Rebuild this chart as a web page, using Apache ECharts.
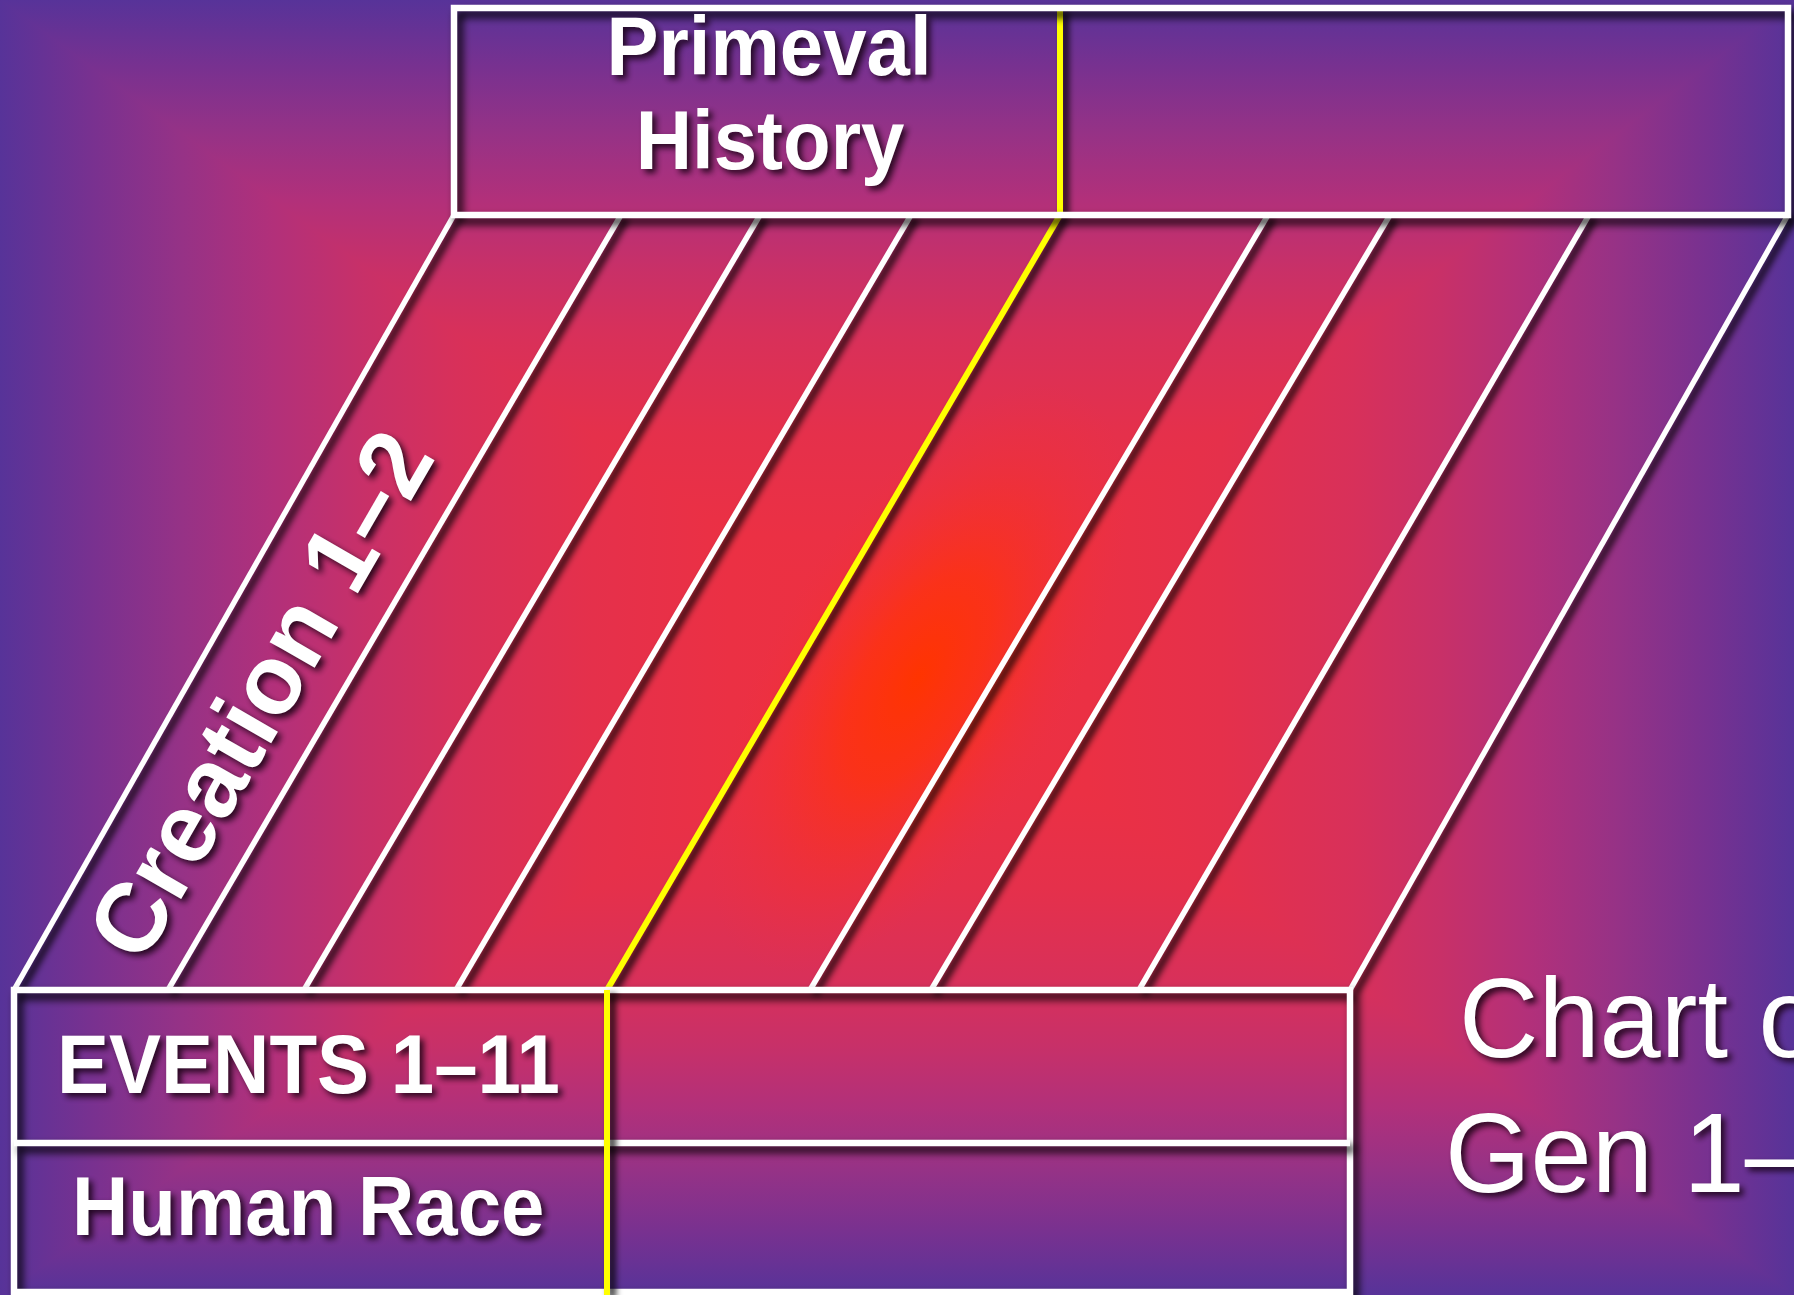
<!DOCTYPE html>
<html>
<head>
<meta charset="utf-8">
<style>
  html, body { margin: 0; padding: 0; background: #5a3398; overflow: hidden; }
  #chart { width: 1794px; height: 1295px; }
</style>
<script src="https://cdn.jsdelivr.net/npm/echarts@6/dist/echarts.min.js"></script>
</head>
<body>
<div id="chart"></div>
<script>
// ===== Diagram data (in diagram units on hidden value axes) =====
const slantTopX    = [454, 621, 760, 911, 1060, 1268, 1390, 1589, 1788];
const slantBottomX = [14, 168, 304, 456, 607, 810, 931, 1139, 1350];
const highlightedSlant = 4;
const bandEdgesY   = [215, 990];
const headerBox    = [454, 8, 1788, 215];
const eventBox     = [14, 990, 1350, 1292];
const eventRowSplitY = [1143];
const yellowSplits = [[1060, 8, 215], [607, 990, 1295]];

const headerLabels = ['Primeval', 'History'];
const rowLabels    = ['EVENTS 1–11', 'Human Race'];
const bandLabels   = ['Creation 1–2'];
const titleLabels  = ['Chart of', 'Gen 1–11'];

// ===== Layout / styling =====
const W = 1794, H = 1295;
const labelAnchors = {
  header: [[769, 52], [770, 146]],
  rows:   [[57, 1070], [72, 1212]],
  band:   [[266, 698]],
  title:  [[1459, 1026], [1445, 1161]]
};
const glowCenterFrac = [912 / W, 668 / H];
const glowStops = [
  { offset: 0.00, color: '#ee3040' },
  { offset: 0.20, color: '#eb3044' },
  { offset: 0.35, color: '#e5304b' },
  { offset: 0.50, color: '#d8305a' },
  { offset: 0.60, color: '#c83068' },
  { offset: 0.70, color: '#b2307a' },
  { offset: 0.80, color: '#963286' },
  { offset: 0.90, color: '#783190' },
  { offset: 1.00, color: '#573399' }
];
const FONT = '"Liberation Sans", Arial, Helvetica, sans-serif';
const textShadow = {
  textShadowColor: 'rgba(20,0,15,0.85)',
  textShadowBlur: 6,
  textShadowOffsetX: 4,
  textShadowOffsetY: 4
};
const lineShadow = {
  shadowColor: 'rgba(0,0,0,1)',
  shadowBlur: 7,
  shadowOffsetX: 5,
  shadowOffsetY: 4
};
const boxShadow = {
  shadowColor: 'rgba(0,0,0,1)',
  shadowBlur: 8,
  shadowOffsetX: 5,
  shadowOffsetY: 6
};

const chart = echarts.init(document.getElementById('chart'), null, { renderer: 'canvas' });

function backgroundSeries() {
  return {
    type: 'custom',
    coordinateSystem: 'none',
    silent: true,
    z: 0,
    data: [[0]],
    renderItem: function (params, api) {
      const w = api.getWidth(), h = api.getHeight();
      const cx = w * glowCenterFrac[0], cy = h * glowCenterFrac[1];
      function grad(x2, y2) {
        return { type: 'linear', x: cx, y: cy, x2: x2, y2: y2, global: true, colorStops: glowStops };
      }
      function tri(pts, g) {
        return { type: 'polygon', shape: { points: pts }, style: { fill: g, stroke: g, lineWidth: 2 } };
      }
      const children = [
        tri([[0, 0], [w, 0], [cx, cy]], grad(cx, 0)),
        tri([[0, h], [w, h], [cx, cy]], grad(cx, h)),
        tri([[0, 0], [0, h], [cx, cy]], grad(0, cy)),
        tri([[w, 0], [w, h], [cx, cy]], grad(w, cy)),
        {
          type: 'circle',
          x: cx + 6, y: cy + 10,
          rotation: -Math.PI / 6,
          scaleX: 1, scaleY: 2.2,
          shape: { cx: 0, cy: 0, r: 150 },
          style: {
            fill: {
              type: 'radial', x: 0.5, y: 0.5, r: 0.5,
              colorStops: [
                { offset: 0, color: 'rgba(255,52,0,1)' },
                { offset: 0.35, color: 'rgba(255,50,12,0.75)' },
                { offset: 0.7, color: 'rgba(248,48,36,0.3)' },
                { offset: 1, color: 'rgba(240,48,60,0)' }
              ]
            }
          }
        }
      ];
      return { type: 'group', children: children };
    }
  };
}

function slantSeries() {
  return {
    type: 'custom',
    coordinateSystem: 'cartesian2d',
    silent: true,
    z: 3,
    data: slantTopX.map((x, i) => [x, slantBottomX[i]]),
    renderItem: function (params, api) {
      const a = api.coord([api.value(0), bandEdgesY[0]]);
      const b = api.coord([api.value(1), bandEdgesY[1]]);
      const hi = params.dataIndex === highlightedSlant;
      return {
        type: 'line',
        shape: { x1: a[0], y1: a[1], x2: b[0], y2: b[1] },
        style: Object.assign({ stroke: hi ? '#ffff00' : '#ffffff', lineWidth: hi ? 6 : 5.5 }, lineShadow)
      };
    }
  };
}

function yellowSeries(z, items) {
  return {
    type: 'custom',
    coordinateSystem: 'cartesian2d',
    silent: true,
    z: z,
    data: items,
    renderItem: function (params, api) {
      const a = api.coord([api.value(0), api.value(1)]);
      const b = api.coord([api.value(0), api.value(2)]);
      return {
        type: 'line',
        shape: { x1: a[0], y1: a[1], x2: b[0], y2: b[1] },
        style: Object.assign({ stroke: '#ffff00', lineWidth: 6 }, lineShadow)
      };
    }
  };
}

function boxSeries() {
  return {
    type: 'custom',
    coordinateSystem: 'cartesian2d',
    silent: true,
    z: 5,
    data: [headerBox, eventBox],
    renderItem: function (params, api) {
      const p0 = api.coord([api.value(0), api.value(1)]);
      const p1 = api.coord([api.value(2), api.value(3)]);
      return {
        type: 'rect',
        shape: { x: p0[0], y: p0[1], width: p1[0] - p0[0], height: p1[1] - p0[1] },
        style: Object.assign({ fill: null, stroke: '#ffffff', lineWidth: 6.5 }, boxShadow)
      };
    }
  };
}

function rowSplitSeries() {
  return {
    type: 'custom',
    coordinateSystem: 'cartesian2d',
    silent: true,
    z: 5,
    data: eventRowSplitY.map(y => [eventBox[0], y, eventBox[2]]),
    renderItem: function (params, api) {
      const a = api.coord([api.value(0), api.value(1)]);
      const b = api.coord([api.value(2), api.value(1)]);
      return {
        type: 'line',
        shape: { x1: a[0], y1: a[1], x2: b[0], y2: b[1] },
        style: Object.assign({ stroke: '#ffffff', lineWidth: 6.5 }, boxShadow)
      };
    }
  };
}

function textSeries(texts, anchors, style, rotation, scaleY) {
  return {
    type: 'custom',
    coordinateSystem: 'cartesian2d',
    silent: true,
    z: 10,
    data: anchors.map((p) => [p[0], p[1]]),
    renderItem: function (params, api) {
      const pt = api.coord([api.value(0), api.value(1)]);
      return {
        type: 'text',
        x: pt[0], y: pt[1],
        rotation: rotation || 0,
        scaleY: scaleY || 1,
        style: Object.assign({ text: texts[params.dataIndex], fill: '#ffffff', fontFamily: FONT }, textShadow, style)
      };
    }
  };
}

const option = {
  backgroundColor: '#7a3190',
  animation: false,
  grid: { left: 0, right: 0, top: 0, bottom: 0, containLabel: false },
  xAxis: { type: 'value', min: 0, max: W, show: false },
  yAxis: { type: 'value', min: 0, max: H, inverse: true, show: false },
  series: [
    backgroundSeries(),
    slantSeries(),
    yellowSeries(4, [yellowSplits[0]]),
    boxSeries(),
    rowSplitSeries(),
    yellowSeries(6, [yellowSplits[1]]),
    textSeries(headerLabels, labelAnchors.header, { fontSize: 78, fontWeight: 'bold', align: 'center', verticalAlign: 'middle' }, 0, 1.08),
    textSeries(rowLabels, labelAnchors.rows, { fontSize: 78, fontWeight: 'bold', align: 'left', verticalAlign: 'middle' }, 0, 1.08),
    textSeries(bandLabels, labelAnchors.band, { fontSize: 98, fontWeight: 'bold', align: 'center', verticalAlign: 'middle' }, Math.PI / 3, 1),
    textSeries(titleLabels, labelAnchors.title, { fontSize: 110, fontWeight: 'normal', align: 'left', verticalAlign: 'middle' }, 0, 1.03)
  ]
};
chart.setOption(option);
</script>
</body>
</html>
